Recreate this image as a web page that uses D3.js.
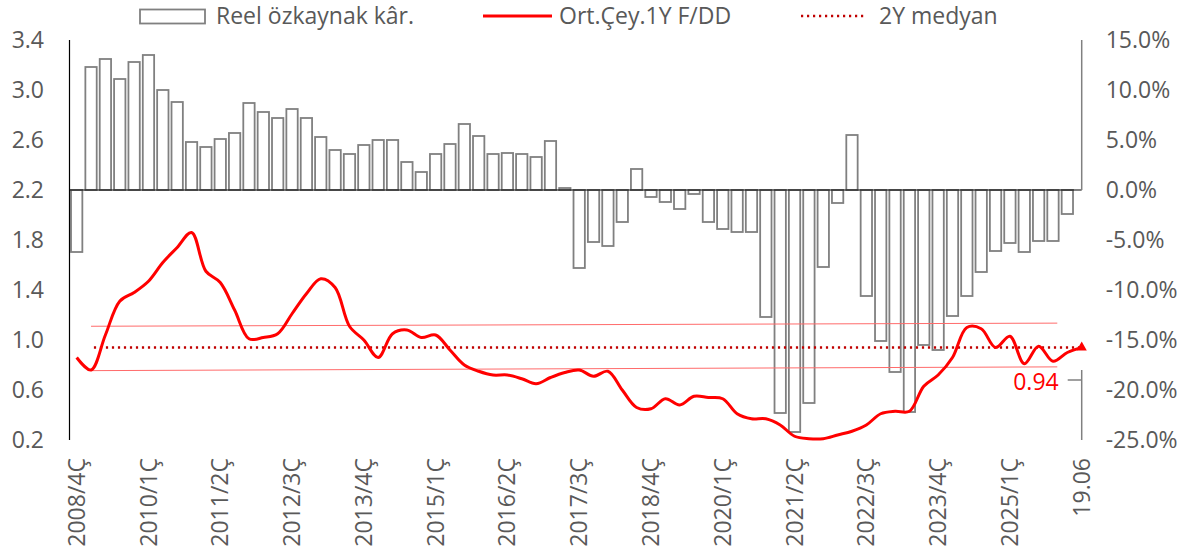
<!DOCTYPE html>
<html>
<head>
<meta charset="utf-8">
<script src="https://cdn.jsdelivr.net/npm/d3@7"></script>
<style>
  body { margin: 0; background: #fff; }
  text { font-family: "Open Sans", sans-serif; fill: #595959; }
</style>
</head>
<body>
<svg id="chart" width="1182" height="557"></svg>
<script>
// quarters, last point is the current date
var categories = ["2008/4Ç",
  "2009/1Ç","2009/2Ç","2009/3Ç","2009/4Ç","2010/1Ç","2010/2Ç","2010/3Ç","2010/4Ç",
  "2011/1Ç","2011/2Ç","2011/3Ç","2011/4Ç","2012/1Ç","2012/2Ç","2012/3Ç","2012/4Ç",
  "2013/1Ç","2013/2Ç","2013/3Ç","2013/4Ç","2014/1Ç","2014/2Ç","2014/3Ç","2014/4Ç",
  "2015/1Ç","2015/2Ç","2015/3Ç","2015/4Ç","2016/1Ç","2016/2Ç","2016/3Ç","2016/4Ç",
  "2017/1Ç","2017/2Ç","2017/3Ç","2017/4Ç","2018/1Ç","2018/2Ç","2018/3Ç","2018/4Ç",
  "2019/1Ç","2019/2Ç","2019/3Ç","2019/4Ç","2020/1Ç","2020/2Ç","2020/3Ç","2020/4Ç",
  "2021/1Ç","2021/2Ç","2021/3Ç","2021/4Ç","2022/1Ç","2022/2Ç","2022/3Ç","2022/4Ç",
  "2023/1Ç","2023/2Ç","2023/3Ç","2023/4Ç","2024/1Ç","2024/2Ç","2024/3Ç","2024/4Ç",
  "2025/1Ç","2025/2Ç","2025/3Ç","2025/4Ç","2026/1Ç","19.06"];

var tickLabels = ["2008/4Ç","2010/1Ç","2011/2Ç","2012/3Ç","2013/4Ç","2015/1Ç","2016/2Ç",
  "2017/3Ç","2018/4Ç","2020/1Ç","2021/2Ç","2022/3Ç","2023/4Ç","2025/1Ç","19.06"];

// Reel özkaynak kârı (%), one per quarter
var roeReal = [-6.2,
  12.3,13.1,11.1,12.8,13.5,10.0,8.8,4.8,4.3,5.1,
  5.7,8.7,7.8,7.2,8.1,7.2,5.3,4.0,3.6,4.5,
  5.0,5.0,2.8,1.8,3.6,4.6,6.6,5.4,3.6,3.7,
  3.6,3.3,4.9,0.2,-7.8,-5.2,-5.6,-3.2,2.1,-0.7,
  -1.2,-1.9,-0.4,-3.2,-3.9,-4.2,-4.2,-12.7,-22.3,-24.2,
  -21.3,-7.7,-1.3,5.5,-10.6,-15.1,-18.2,-22.2,-15.5,-16.0,
  -12.6,-10.6,-8.2,-6.1,-5.3,-6.2,-5.1,-5.1,-2.4];

// Ort.Çey.1Y F/DD
var pbRatio = [0.86,0.76,1.04,1.31,1.38,1.47,1.62,1.74,1.86,1.55,
  1.46,1.24,1.01,1.02,1.05,1.21,1.37,1.49,1.42,1.11,
  1.00,0.86,1.05,1.08,1.02,1.04,0.92,0.80,0.75,0.72,
  0.72,0.69,0.65,0.70,0.74,0.76,0.71,0.75,0.60,0.46,
  0.45,0.53,0.48,0.55,0.54,0.53,0.41,0.37,0.37,0.32,
  0.23,0.21,0.21,0.24,0.27,0.32,0.41,0.43,0.43,0.63,
  0.72,0.86,1.10,1.09,0.94,1.03,0.81,0.95,0.83,0.90,0.94];

var median2Y = 0.94;
// upper / lower band, start and end values
var bandUpper = [1.11, 1.135];
var bandLower = [0.755, 0.785];
var bandIdx = [1.0, 68.3];

var leftTicks = [0.2, 0.6, 1.0, 1.4, 1.8, 2.2, 2.6, 3.0, 3.4];
var rightTicks = [-25, -20, -15, -10, -5, 0, 5, 10, 15];

var svg = d3.select("#chart"),
    margin = { top: 40, right: 100, bottom: 117, left: 69.5 },
    width = 1081.7 - margin.left,
    height = 400;

var g = svg.append("g").attr("transform", "translate(" + margin.left + "," + margin.top + ")");

var x = d3.scaleLinear().domain([-0.5, categories.length - 1]).range([0, width]);
var step = x(1) - x(0);
var yL = d3.scaleLinear().domain([0.2, 3.4]).range([height, 0]);
var yR = d3.scaleLinear().domain([-25, 15]).range([height, 0]);

// bars
var bw = step * 0.79;
g.selectAll(".bar")
  .data(roeReal)
  .enter().append("rect")
    .attr("class", "bar")
    .attr("x", function (d, i) { return x(i) - bw / 2; })
    .attr("y", function (d) { return yR(Math.max(0, d)); })
    .attr("width", bw)
    .attr("height", function (d) { return Math.abs(yR(d) - yR(0)); })
    .attr("fill", "#fff")
    .attr("stroke", "#808080")
    .attr("stroke-width", 1.8);

// zero line
g.append("line")
    .attr("x1", 0).attr("x2", width)
    .attr("y1", yR(0)).attr("y2", yR(0))
    .attr("stroke", "#000").attr("stroke-width", 1.2);

// band lines
[bandUpper, bandLower].forEach(function (b) {
  g.append("line")
    .attr("x1", x(bandIdx[0])).attr("x2", x(bandIdx[1]))
    .attr("y1", yL(b[0])).attr("y2", yL(b[1]))
    .attr("stroke", "#ff6b6b").attr("stroke-width", 1);
});

// median
g.append("line")
    .attr("x1", x(1.2)).attr("x2", x(70))
    .attr("y1", yL(median2Y)).attr("y2", yL(median2Y))
    .attr("stroke", "#c00000").attr("stroke-width", 2.5)
    .attr("stroke-dasharray", "2.2,3.8");

// line
var line = d3.line()
    .x(function (d, i) { return x(i); })
    .y(function (d) { return yL(d); })
    .curve(d3.curveCatmullRom.alpha(0.5));

g.append("path")
    .datum(pbRatio)
    .attr("d", line)
    .attr("fill", "none")
    .attr("stroke", "#ff0000")
    .attr("stroke-width", 3);

var last = pbRatio.length - 1;
g.append("path")
    .attr("d", d3.symbol().type(d3.symbolTriangle).size(45))
    .attr("transform", "translate(" + x(last) + "," + yL(pbRatio[last]) + ")")
    .attr("fill", "#ff0000");

// axes lines
g.append("line").attr("x1", 0).attr("x2", 0).attr("y1", 0).attr("y2", height)
    .attr("stroke", "#000").attr("stroke-width", 1.2);
g.append("line").attr("x1", width).attr("x2", width).attr("y1", 0).attr("y2", yR(0))
    .attr("stroke", "#808080").attr("stroke-width", 1.5);
g.append("line").attr("x1", width).attr("x2", width).attr("y1", 330).attr("y2", height)
    .attr("stroke", "#808080").attr("stroke-width", 1.5);
g.append("line").attr("x1", width - 14).attr("x2", width).attr("y1", 340).attr("y2", 340)
    .attr("stroke", "#808080").attr("stroke-width", 1.5);

// value label
g.append("text")
    .attr("x", width - 23).attr("y", 341.5)
    .attr("dy", "0.35em")
    .attr("text-anchor", "end")
    .style("fill", "#ff0000")
    .style("font-size", "23px")
    .text(pbRatio[last].toFixed(2));

// left ticks
g.selectAll(".tl")
  .data(leftTicks)
  .enter().append("text")
    .attr("x", -25.5)
    .attr("y", function (d) { return yL(d); })
    .attr("dy", "0.35em")
    .attr("text-anchor", "end")
    .style("font-size", "23px")
    .text(function (d) { return d.toFixed(1); });

// right ticks
g.selectAll(".tr")
  .data(rightTicks)
  .enter().append("text")
    .attr("x", width + 24)
    .attr("y", function (d) { return yR(d); })
    .attr("dy", "0.35em")
    .style("font-size", "23px")
    .text(function (d) { return d.toFixed(1) + "%"; });

// x labels
g.selectAll(".tx")
  .data(tickLabels)
  .enter().append("text")
    .attr("transform", function (d) {
      return "translate(" + x(categories.indexOf(d)) + "," + (height + 18) + ") rotate(-90)";
    })
    .attr("dy", "0.35em")
    .attr("text-anchor", "end")
    .style("font-size", "23px")
    .text(function (d) { return d; });

// legend
var lg = svg.append("g");
lg.append("rect").attr("x", 140).attr("y", 9.5).attr("width", 65).attr("height", 14)
    .attr("fill", "#fff").attr("stroke", "#808080").attr("stroke-width", 1.8);
lg.append("text").attr("x", 216).attr("y", 24).style("font-size", "23px").text("Reel özkaynak kâr.");
lg.append("line").attr("x1", 483).attr("x2", 552).attr("y1", 16).attr("y2", 16)
    .attr("stroke", "#ff0000").attr("stroke-width", 3);
lg.append("text").attr("x", 559).attr("y", 24).style("font-size", "23px").text("Ort.Çey.1Y F/DD");
lg.append("line").attr("x1", 801).attr("x2", 867).attr("y1", 16).attr("y2", 16)
    .attr("stroke", "#c00000").attr("stroke-width", 2.5).attr("stroke-dasharray", "2.2,3.8");
lg.append("text").attr("x", 879).attr("y", 24).style("font-size", "23px").text("2Y medyan");
</script>
</body>
</html>
